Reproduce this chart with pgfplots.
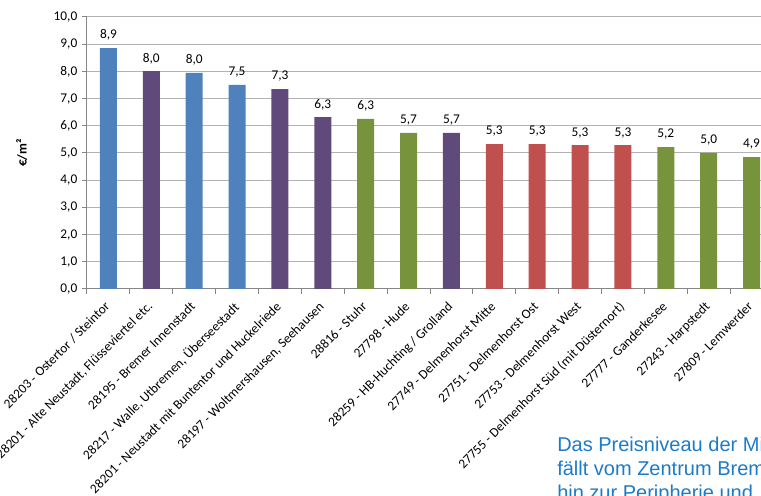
\documentclass[border=0pt]{standalone}
\usepackage{pgfplots}
\pgfplotsset{compat=1.18}
\usepackage{pgfplotstable}
\usepackage{fontspec}
\setmainfont{Carlito}
\newfontfamily\notefont{Liberation Sans}
\definecolor{cblue}{HTML}{4F81BD}
\definecolor{cpurple}{HTML}{604A7B}
\definecolor{cred}{HTML}{C0504D}
\definecolor{cgreen}{HTML}{77933C}
\definecolor{notec}{HTML}{1C7BC8}
\definecolor{gridc}{HTML}{B3B3B3}
\definecolor{axisc}{HTML}{868686}

\pgfplotstableread{
x y label
0 8.86 8,9
2 7.95 8,0
3 7.50 7,5
}\blueT
\pgfplotstableread{
x y label
1 8.01 8,0
4 7.35 7,3
5 6.32 6,3
8 5.74 5,7
}\purpleT
\pgfplotstableread{
x y label
6 6.25 6,3
7 5.74 5,7
13 5.22 5,2
14 5.00 5,0
15 4.85 4,9
}\greenT
\pgfplotstableread{
x y label
9 5.33 5,3
10 5.33 5,3
11 5.29 5,3
12 5.29 5,3
}\redT

\begin{document}
\begin{tikzpicture}[x=0.75pt,y=0.75pt]
\useasboundingbox (0,0) rectangle (761,496);
\clip (0,0) rectangle (761,496);
\begin{axis}[
  at={(65.25pt,155.25pt)}, anchor=south west,
  scale only axis, width=514.5pt, height=204pt,
  xmin=-0.5, xmax=15.5, ymin=0, ymax=10,
  ybar, bar width=12.75pt, bar shift=0pt,
  axis x line*=bottom, axis y line*=left,
  axis line style={axisc, line width=0.75pt, -},
  ymajorgrids, major grid style={gridc, line width=0.75pt},
  ytick={0,1,...,10},
  yticklabel style={/pgf/number format/.cd, fixed, fixed zerofill, precision=1, use comma, assume math mode=true},
  tick label style={font=\fontsize{10}{12}\selectfont},
  tick align=outside,
  major tick length=3.75pt,
  minor tick length=3.75pt,
  ytick style={axisc, line width=0.75pt},
  major x tick style={draw=none},
  minor x tick style={axisc, line width=0.75pt},
  xtick={0,...,15},
  minor xtick={-0.5,0.5,...,15.5},
  xticklabels={
    28203 - Ostertor / Steintor,
    {28201 - Alte Neustadt, Flüsseviertel etc.},
    28195 - Bremer Innenstadt,
    {28217 - Walle, Utbremen, Überseestadt},
    28201 - Neustadt mit Buntentor und Huckelriede,
    {28197 - Woltmershausen, Seehausen},
    28816 - Stuhr,
    27798 - Hude,
    28259 - HB-Huchting / Grolland,
    27749 - Delmenhorst Mitte,
    27751 - Delmenhorst Ost,
    27753 - Delmenhorst West,
    27755 - Delmenhorst Süd (mit Düsternort),
    27777 - Ganderkesee,
    27243 - Harpstedt,
    27809 - Lemwerder},
  xticklabel style={xshift=-3.5pt, yshift=-3.5pt, rotate=45, anchor=north east, inner sep=1pt},
  ylabel={\bfseries €/m²},
  every axis y label/.style={at={(axis description cs:-0.095,0.5)}, rotate=90, anchor=center, font=\fontsize{10}{12}\selectfont},
  nodes near coords,
  point meta=explicit symbolic,
  every node near coord/.append style={font=\fontsize{10}{12}\selectfont, text=black, anchor=south, yshift=2pt},
]
\addplot[fill=cblue, draw=none] table[x=x, y=y, meta=label] {\blueT};
\addplot[fill=cpurple, draw=none] table[x=x, y=y, meta=label] {\purpleT};
\addplot[fill=cgreen, draw=none] table[x=x, y=y, meta=label] {\greenT};
\addplot[fill=cred, draw=none] table[x=x, y=y, meta=label] {\redT};
\end{axis}
\node[anchor=north west, inner sep=0pt, align=left, text=notec, font=\notefont\fontsize{15}{18}\selectfont] at (557,59) {Das Preisniveau der Mieten\\fällt vom Zentrum Bremens\\hin zur Peripherie und};
\end{tikzpicture}
\end{document}
